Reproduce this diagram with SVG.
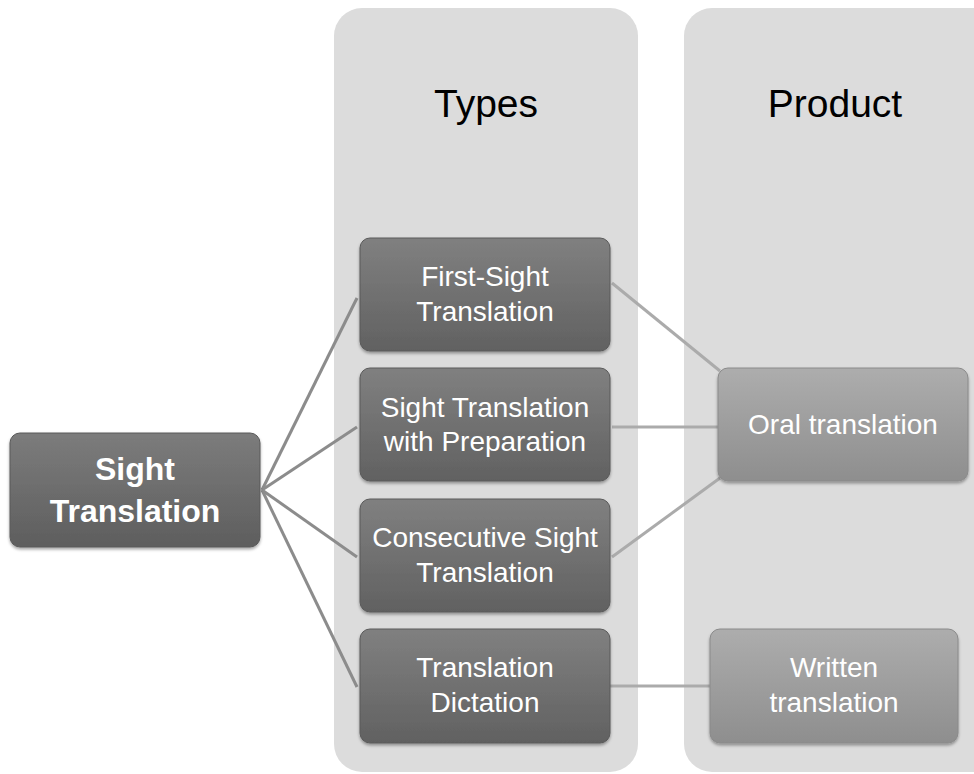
<svg xmlns="http://www.w3.org/2000/svg" width="974" height="774" viewBox="0 0 974 774">
  <defs>
    <linearGradient id="gDark" x1="0" y1="0" x2="0" y2="1">
      <stop offset="0" stop-color="#7c7c7c"/>
      <stop offset="1" stop-color="#5e5e5e"/>
    </linearGradient>
    <linearGradient id="gMid" x1="0" y1="0" x2="0" y2="1">
      <stop offset="0" stop-color="#808080"/>
      <stop offset="1" stop-color="#616161"/>
    </linearGradient>
    <linearGradient id="gLight" x1="0" y1="0" x2="0" y2="1">
      <stop offset="0" stop-color="#adadad"/>
      <stop offset="1" stop-color="#8e8e8e"/>
    </linearGradient>
    <filter id="shadow" x="-10%" y="-10%" width="120%" height="130%">
      <feDropShadow dx="0" dy="2" stdDeviation="1.5" flood-color="#000" flood-opacity="0.35"/>
    </filter>
  </defs>
  <style>
    .panel { fill: #dcdcdc; }
    .head { font-family: "Liberation Sans", Arial, sans-serif; font-size: 39px; fill: #000; text-anchor: middle; }
    .box { stroke: #5a5a5a; stroke-width: 1; filter: url(#shadow); }
    .boxL { stroke: #8a8a8a; stroke-width: 1; filter: url(#shadow); }
    .lbl { font-family: "Liberation Sans", Arial, sans-serif; font-size: 28px; fill: #fff; text-anchor: middle; }
    .root { font-family: "Liberation Sans", Arial, sans-serif; font-size: 32px; font-weight: bold; fill: #fff; text-anchor: middle; }
    .c1 { stroke: #8c8c8c; stroke-width: 3; fill: none; }
    .c2 { stroke: #ababab; stroke-width: 3; fill: none; }
  </style>

  <rect width="974" height="774" fill="#fff"/>

  <!-- column panels -->
  <g id="panel-types">
    <rect class="panel" x="334" y="8" width="304" height="764" rx="28"/>
    <text class="head" x="486" y="117">Types</text>
  </g>
  <g id="panel-product">
    <rect class="panel" x="684" y="8" width="320" height="764" rx="28"/>
    <text class="head" x="835" y="117">Product</text>
  </g>

  <!-- connectors -->
  <g id="connectors">
    <line class="c1" x1="262" y1="490" x2="357" y2="298"/>
    <line class="c1" x1="262" y1="490" x2="357" y2="427"/>
    <line class="c1" x1="262" y1="490" x2="357" y2="557"/>
    <line class="c1" x1="262" y1="490" x2="357" y2="687"/>
    <line class="c2" x1="612" y1="283" x2="720" y2="371"/>
    <line class="c2" x1="612" y1="427" x2="718" y2="427"/>
    <line class="c2" x1="612" y1="557" x2="720" y2="478"/>
    <line class="c2" x1="610" y1="686" x2="710" y2="686"/>
  </g>

  <!-- nodes -->
  <g id="node-sight-translation">
    <rect class="box" x="10" y="433" width="250" height="114" rx="10" fill="url(#gDark)"/>
    <text class="root" x="135" y="480">Sight</text>
    <text class="root" x="135" y="522">Translation</text>
  </g>
  <g id="node-first-sight">
    <rect class="box" x="360" y="238" width="250" height="113" rx="10" fill="url(#gMid)"/>
    <text class="lbl" x="485" y="286">First-Sight</text>
    <text class="lbl" x="485" y="321">Translation</text>
  </g>
  <g id="node-with-preparation">
    <rect class="box" x="360" y="368" width="250" height="113" rx="10" fill="url(#gMid)"/>
    <text class="lbl" x="485" y="417">Sight Translation</text>
    <text class="lbl" x="485" y="451">with Preparation</text>
  </g>
  <g id="node-consecutive">
    <rect class="box" x="360" y="499" width="250" height="113" rx="10" fill="url(#gMid)"/>
    <text class="lbl" x="485" y="547">Consecutive Sight</text>
    <text class="lbl" x="485" y="582">Translation</text>
  </g>
  <g id="node-dictation">
    <rect class="box" x="360" y="629" width="250" height="114" rx="10" fill="url(#gMid)"/>
    <text class="lbl" x="485" y="677">Translation</text>
    <text class="lbl" x="485" y="712">Dictation</text>
  </g>
  <g id="node-oral">
    <rect class="boxL" x="718" y="368" width="250" height="113" rx="10" fill="url(#gLight)"/>
    <text class="lbl" x="843" y="434">Oral translation</text>
  </g>
  <g id="node-written">
    <rect class="boxL" x="710" y="629" width="248" height="114" rx="10" fill="url(#gLight)"/>
    <text class="lbl" x="834" y="677">Written</text>
    <text class="lbl" x="834" y="712">translation</text>
  </g>
</svg>
